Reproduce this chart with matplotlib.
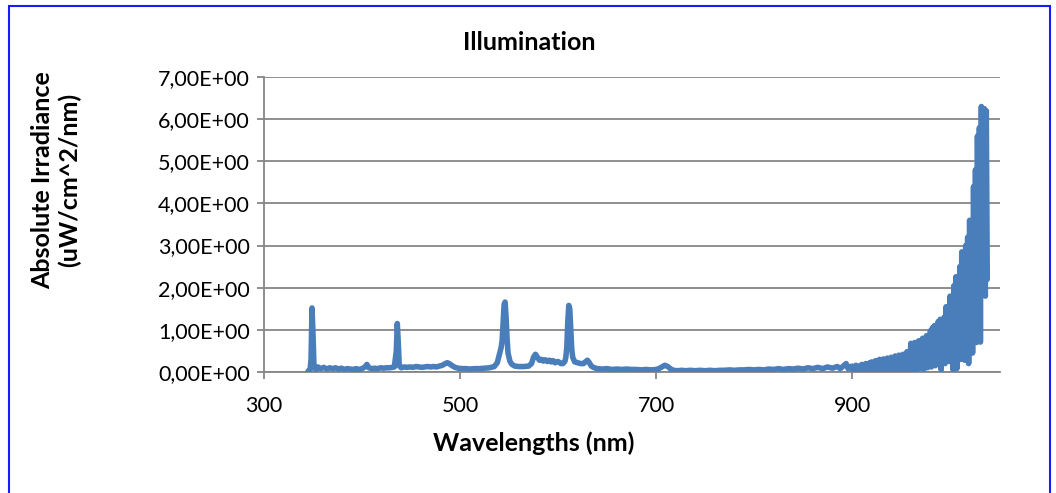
import matplotlib
matplotlib.use("Agg")
import matplotlib.pyplot as plt
from matplotlib.ticker import FuncFormatter, MultipleLocator
from matplotlib.patches import Rectangle

# ---- data ----
wl_visible = [345, 346, 347, 348, 349, 350, 351, 353, 355, 358, 361, 364, 367, 370, 373, 376, 379, 382,
              385, 388, 391, 394, 397, 400, 403, 405, 407, 410, 413, 416, 419, 422, 425, 428, 431, 433,
              435, 436, 437, 438, 440, 443, 446, 449, 452, 455, 458, 461, 464, 467, 470, 473, 476, 479,
              482, 485, 487, 489, 492, 495, 498, 502, 506, 510, 515, 520, 525, 530, 535, 538, 540, 542,
              543, 544, 545, 546, 547, 548, 549, 551, 553, 556, 560, 565, 570, 573, 575, 577, 579, 581,
              583, 585, 587, 589, 591, 593, 595, 597, 600, 603, 605, 607, 608, 609, 610, 611, 612, 613,
              614, 615, 617, 620, 623, 626, 628, 630, 632, 634, 637, 640]
irr_visible = [0.02, 0.03, 0.04, 0.30, 1.52, 0.90, 0.12, 0.06, 0.12, 0.08, 0.11, 0.07, 0.10, 0.08, 0.10, 0.07, 0.09, 0.06,
               0.08, 0.07, 0.06, 0.08, 0.06, 0.08, 0.12, 0.18, 0.10, 0.08, 0.09, 0.08, 0.10, 0.09, 0.10, 0.10, 0.11, 0.12,
               0.50, 1.15, 0.70, 0.15, 0.10, 0.12, 0.11, 0.12, 0.11, 0.13, 0.12, 0.11, 0.12, 0.13, 0.12, 0.13, 0.12, 0.14,
               0.16, 0.20, 0.22, 0.20, 0.15, 0.11, 0.09, 0.08, 0.08, 0.07, 0.08, 0.08, 0.09, 0.10, 0.13, 0.22, 0.40, 0.58,
               0.75, 1.20, 1.60, 1.66, 1.30, 0.80, 0.45, 0.25, 0.18, 0.14, 0.13, 0.13, 0.14, 0.20, 0.35, 0.42, 0.35, 0.28,
               0.30, 0.26, 0.29, 0.25, 0.28, 0.24, 0.27, 0.22, 0.25, 0.20, 0.20, 0.25, 0.35, 0.60, 1.20, 1.58, 1.50, 1.00,
               0.55, 0.35, 0.24, 0.22, 0.20, 0.20, 0.24, 0.28, 0.22, 0.14, 0.10, 0.08]

wl_red = [645, 650, 655, 660, 665, 670, 675, 680, 685, 690, 695, 700, 703, 706, 709, 712, 715, 718, 722, 726,
          730, 735, 740, 745, 750, 755, 760, 765, 770, 775, 780, 785, 790, 795, 800, 805, 810, 815, 820, 825,
          830, 835, 840, 845, 850, 855, 860, 865, 870, 875, 880, 885, 888, 891, 894, 896, 898]
irr_red = [0.07, 0.08, 0.06, 0.07, 0.06, 0.07, 0.06, 0.06, 0.05, 0.06, 0.05, 0.06, 0.08, 0.12, 0.16, 0.13, 0.07, 0.04, 0.03, 0.04,
           0.03, 0.04, 0.03, 0.04, 0.03, 0.04, 0.03, 0.04, 0.04, 0.05, 0.04, 0.05, 0.05, 0.06, 0.05, 0.06, 0.05, 0.07, 0.06, 0.08,
           0.06, 0.08, 0.07, 0.09, 0.07, 0.10, 0.08, 0.11, 0.08, 0.12, 0.09, 0.13, 0.08, 0.14, 0.20, 0.08, 0.12]

# near-infrared part, one value per nm from 900 to 1038 nm
wl_nir = list(range(900, 1039))
irr_nir = [0.14, 0.04, 0.12, 0.03, 0.16, 0.06, 0.10, 0.02, 0.15, 0.05,
           0.18, 0.03, 0.12, 0.06, 0.20, 0.02, 0.16, 0.05, 0.22, 0.04,
           0.24, 0.06, 0.18, 0.02, 0.27, 0.08, 0.22, 0.03, 0.30, 0.05,
           0.26, 0.02, 0.31, 0.07, 0.24, 0.04, 0.33, 0.06, 0.28, 0.02,
           0.35, 0.08, 0.30, 0.03, 0.38, 0.06, 0.32, 0.02, 0.40, 0.07,
           0.36, 0.04, 0.42, 0.09, 0.38, 0.03, 0.48, 0.06, 0.44, 0.10,
           0.68, 0.05, 0.60, 0.12, 0.70, 0.02, 0.64, 0.15, 0.74, 0.08,
           0.66, 0.18, 0.80, 0.06, 0.72, 0.20, 0.86, 0.10, 0.78, 0.22,
           0.98, 0.12, 1.05, 0.30, 1.10, 0.15, 0.95, 0.35, 1.20, 0.18,
           1.25, 0.05, 1.15, 0.40, 1.30, 0.20, 1.55, 0.45, 1.40, 0.25,
           1.80, 0.50, 1.70, 0.06, 2.05, 0.60, 2.26, 0.08, 2.20, 0.70,
           2.50, 0.30, 2.85, 0.90, 2.70, 0.28, 3.00, 1.10, 3.20, 0.20,
           3.60, 1.30, 3.40, 0.45, 4.40, 1.60, 4.80, 0.70, 5.60, 2.00,
           5.80, 0.71, 6.30, 2.50, 6.20, 6.25, 1.80, 6.20, 2.20]

wavelength = wl_visible + wl_red + wl_nir
irradiance = irr_visible + irr_red + irr_nir

x_ticks = [300, 500, 700, 900]
title = "Illumination"
x_label = "Wavelengths (nm)"
y_label = "Absolute Irradiance\n(uW/cm^2/nm)"

# ---- figure ----
plt.rcParams['font.family'] = ['Lato', 'DejaVu Sans']
W, H = 1056, 493
fig = plt.figure(figsize=(W / 100, H / 100), dpi=100)
ax = fig.add_axes([264 / W, 1 - 372 / H, (1000 - 264) / W, (372 - 77) / H])

ax.plot(wavelength, irradiance, color='#4a7ebb', lw=4.0, solid_joinstyle='round',
        solid_capstyle='round', zorder=3)

ax.set_xlim(300, 1051)
ax.set_ylim(0, 7)
ax.set_xticks(x_ticks)
ax.yaxis.set_major_locator(MultipleLocator(1))
ax.yaxis.set_major_formatter(FuncFormatter(lambda v, p: f"{v:.2f}".replace('.', ',') + "E+00"))

grid_c = '#868686'
ax.grid(axis='y', color=grid_c, lw=1.3, zorder=1)
ax.set_axisbelow(True)
for s in ['top', 'right']:
    ax.spines[s].set_visible(False)
for s in ['left', 'bottom']:
    ax.spines[s].set_color(grid_c)
    ax.spines[s].set_linewidth(1.3)
ax.tick_params(axis='both', colors=grid_c, length=5, width=1.3, direction='out',
               labelcolor='black', labelsize=15.5)
ax.tick_params(axis='x', pad=12)
ax.tick_params(axis='y', pad=5)

fig.text(529 / W, 1 - 43 / H, title, ha='center', va='center', fontsize=18, fontweight='bold')
fig.text(534 / W, 1 - 443 / H, x_label, ha='center', va='center', fontsize=18, fontweight='bold')
fig.text(56 / W, 1 - 180 / H, y_label, ha='center', va='center', rotation=90,
         fontsize=18, fontweight='bold', linespacing=1.15)

# blue outer frame (bottom edge out of view)
fig.patches.append(Rectangle((9 / W, -0.05), (1050 - 9) / W, 1.05 - 6 / H, transform=fig.transFigure,
                             fill=False, edgecolor='#1a1aff', lw=1.5))

fig.savefig("out.png", dpi=100)
